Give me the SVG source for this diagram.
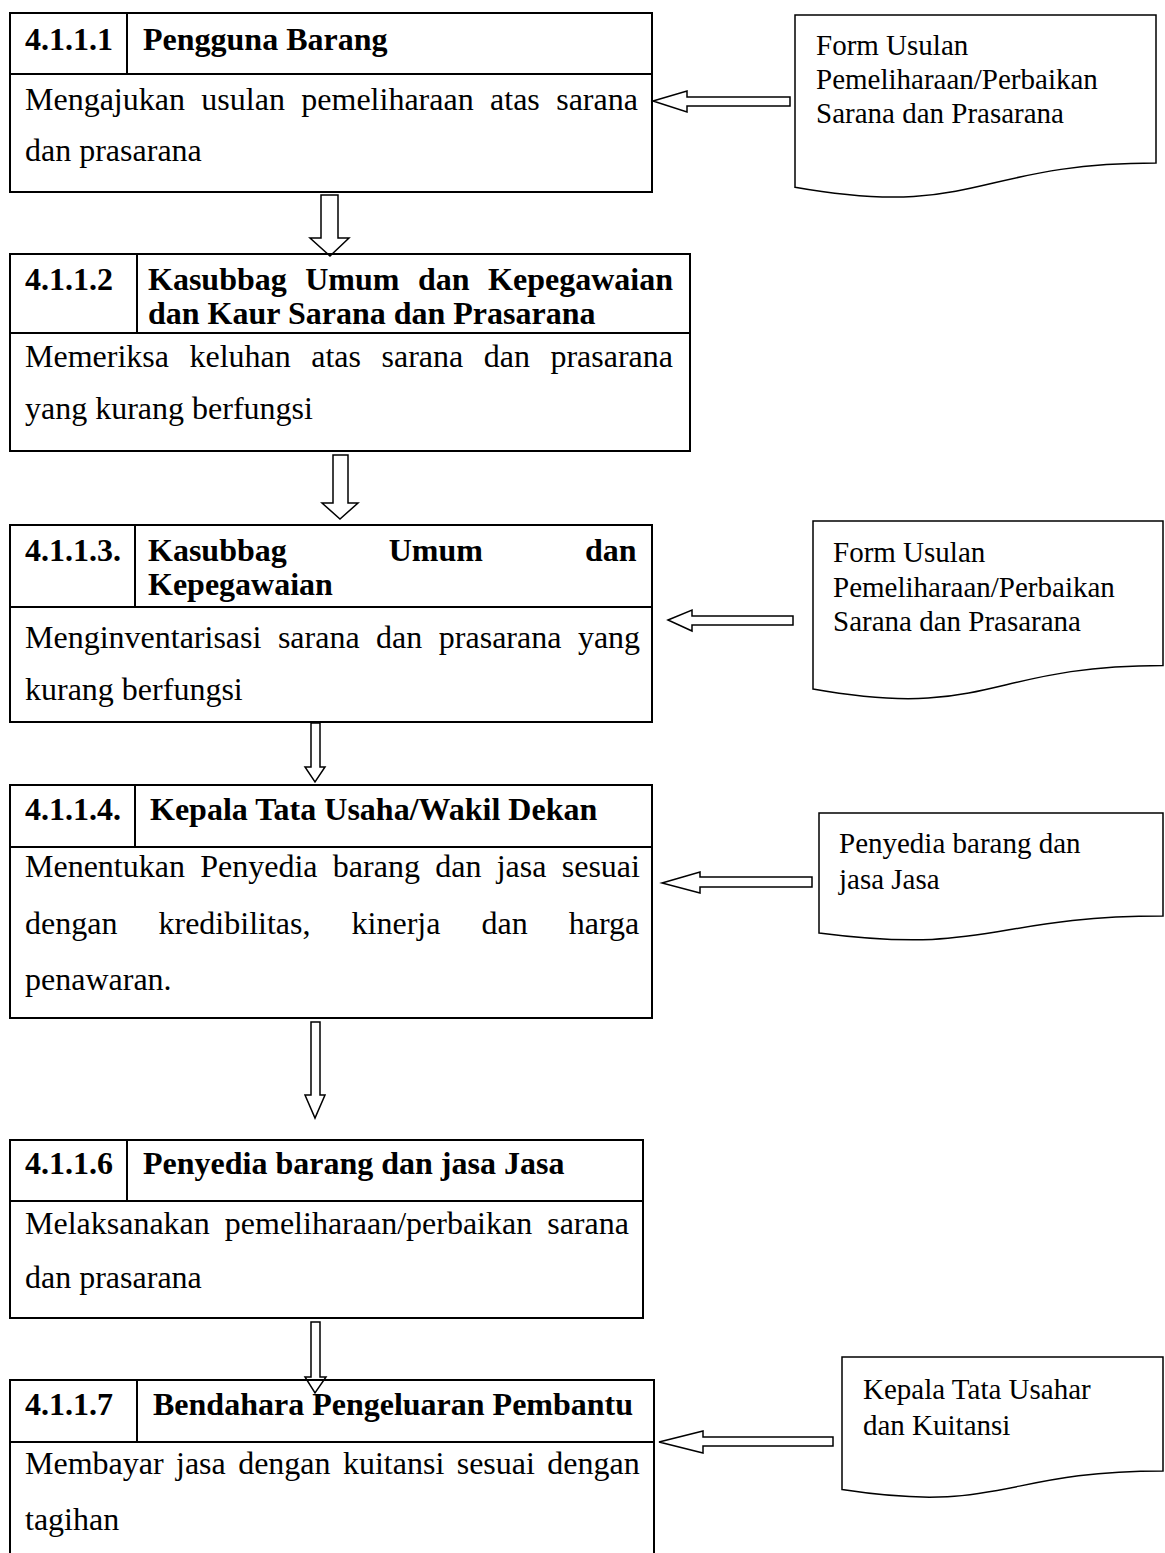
<svg xmlns="http://www.w3.org/2000/svg" width="1165" height="1553" viewBox="0 0 1165 1553">
<style>
.box{fill:none;stroke:#000;stroke-width:2}
.ln{stroke:#000;stroke-width:2}
.doc{fill:#fff;stroke:#000;stroke-width:1.5}
.arr{fill:#fff;stroke:#000;stroke-width:1.5;stroke-linejoin:miter}
.h{font-family:"Liberation Serif","Times New Roman",serif;font-weight:bold;font-size:32px;fill:#000}
.b{font-family:"Liberation Serif","Times New Roman",serif;font-size:32px;fill:#000}
.d{font-family:"Liberation Serif","Times New Roman",serif;font-size:29px;fill:#000}
</style>
<rect width="1165" height="1553" fill="#fff"/>
<g id="connectors">
<polygon class="arr" points="321,195 338,195 338,238 349,238 330,256 310,238 321,238"/>
<polygon class="arr" points="333,455 348,455 348,503 358,503 340,519 322,503 333,503"/>
<polygon class="arr" points="311,723 320,723 320,767 325,767 315,782 305,767 311,767"/>
<polygon class="arr" points="311,1022 320,1022 320,1095 325,1095 315,1118 305,1095 311,1095"/>
<polygon class="arr" points="311,1322 320,1322 320,1377 326,1377 315,1393 305,1377 311,1377"/>
<polygon class="arr" points="653,101 687,91 687,97 790,97 790,106 687,106 687,112"/>
<polygon class="arr" points="668,620 692,610 692,616 793,616 793,625 692,625 692,631"/>
<polygon class="arr" points="662,883 700,872 700,877 812,877 812,887 700,887 700,893"/>
<polygon class="arr" points="659,1442 703,1431 703,1437 833,1437 833,1446 703,1446 703,1453"/>
</g>
<g id="node1">
<rect class="box" x="10" y="13" width="642" height="179"/>
<line class="ln" x1="10" y1="74" x2="652" y2="74"/>
<line class="ln" x1="127" y1="13" x2="127" y2="74"/>
<text class="h" x="25" y="50">4.1.1.1</text>
<text class="h" x="143" y="50">Pengguna Barang</text>
<text class="b" x="25" y="110" word-spacing="8.4">Mengajukan usulan pemeliharaan atas sarana</text>
<text class="b" x="25" y="161">dan prasarana</text>
</g>
<g id="node2">
<rect class="box" x="10" y="254" width="680" height="197"/>
<line class="ln" x1="10" y1="333" x2="690" y2="333"/>
<line class="ln" x1="137" y1="254" x2="137" y2="333"/>
<text class="h" x="25" y="290">4.1.1.2</text>
<text class="h" x="148" y="290" word-spacing="10.5">Kasubbag Umum dan Kepegawaian</text>
<text class="h" x="148" y="324">dan Kaur Sarana dan Prasarana</text>
<text class="b" x="25" y="367" word-spacing="12.5">Memeriksa keluhan atas sarana dan prasarana</text>
<text class="b" x="25" y="419">yang kurang berfungsi</text>
</g>
<g id="node3">
<rect class="box" x="10" y="525" width="642" height="197"/>
<line class="ln" x1="10" y1="607" x2="652" y2="607"/>
<line class="ln" x1="135" y1="525" x2="135" y2="607"/>
<text class="h" x="25" y="561">4.1.1.3.</text>
<text class="h" x="148" y="561" word-spacing="94">Kasubbag Umum dan</text>
<text class="h" x="148" y="595">Kepegawaian</text>
<text class="b" x="25" y="648" word-spacing="8.5">Menginventarisasi sarana dan prasarana yang</text>
<text class="b" x="25" y="700">kurang berfungsi</text>
</g>
<g id="node4">
<rect class="box" x="10" y="785" width="642" height="233"/>
<line class="ln" x1="10" y1="847" x2="652" y2="847"/>
<line class="ln" x1="135" y1="785" x2="135" y2="847"/>
<text class="h" x="25" y="820">4.1.1.4.</text>
<text class="h" x="150" y="820">Kepala Tata Usaha/Wakil Dekan</text>
<text class="b" x="25" y="877" word-spacing="7.3">Menentukan Penyedia barang dan jasa sesuai</text>
<text class="b" x="25" y="934" word-spacing="33.1">dengan kredibilitas, kinerja dan harga</text>
<text class="b" x="25" y="990">penawaran.</text>
</g>
<g id="node6">
<rect class="box" x="10" y="1140" width="633" height="178"/>
<line class="ln" x1="10" y1="1201" x2="643" y2="1201"/>
<line class="ln" x1="127" y1="1140" x2="127" y2="1201"/>
<text class="h" x="25" y="1174">4.1.1.6</text>
<text class="h" x="143" y="1174">Penyedia barang dan jasa Jasa</text>
<text class="b" x="25" y="1234" word-spacing="7">Melaksanakan pemeliharaan/perbaikan sarana</text>
<text class="b" x="25" y="1288">dan prasarana</text>
</g>
<g id="node7">
<rect class="box" x="10" y="1380" width="644" height="200"/>
<line class="ln" x1="10" y1="1442" x2="654" y2="1442"/>
<line class="ln" x1="137" y1="1380" x2="137" y2="1442"/>
<text class="h" x="25" y="1415">4.1.1.7</text>
<text class="h" x="153" y="1415">Bendahara Pengeluaran Pembantu</text>
<text class="b" x="25" y="1474" word-spacing="4.4">Membayar jasa dengan kuitansi sesuai dengan</text>
<text class="b" x="25" y="1530">tagihan</text>
</g>
<g id="doc1">
<path class="doc" d="M795,15 H1156 V163 C975.5,163 975.5,219.3 795,187.3 Z"/>
<text class="d" x="816" y="55">Form Usulan</text>
<text class="d" x="816" y="89">Pemeliharaan/Perbaikan</text>
<text class="d" x="816" y="123">Sarana dan Prasarana</text>
</g>
<g id="doc2">
<path class="doc" d="M813,521 H1163 V665.4 C988,665.4 988,720.4 813,689.1 Z"/>
<text class="d" x="833" y="562">Form Usulan</text>
<text class="d" x="833" y="597">Pemeliharaan/Perbaikan</text>
<text class="d" x="833" y="631">Sarana dan Prasarana</text>
</g>
<g id="doc3">
<path class="doc" d="M819,813 H1163 V916.1 C991,916.1 991,955.3 819,933 Z"/>
<text class="d" x="839" y="853">Penyedia barang dan</text>
<text class="d" x="839" y="889">jasa Jasa</text>
</g>
<g id="doc4">
<path class="doc" d="M842,1357 H1163 V1470.9 C1002.5,1470.9 1002.5,1514.3 842,1489.6 Z"/>
<text class="d" x="863" y="1399">Kepala Tata Usahar</text>
<text class="d" x="863" y="1435">dan Kuitansi</text>
</g>
</svg>
